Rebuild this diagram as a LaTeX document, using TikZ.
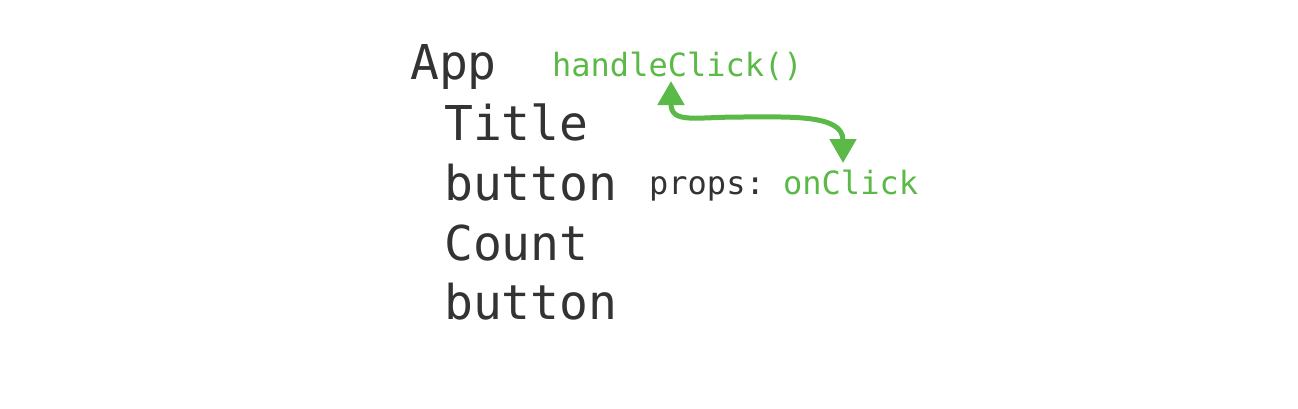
\documentclass[tikz,border=0pt]{standalone}
\usepackage{fontspec}
\setmonofont{DejaVu Sans Mono}
\usetikzlibrary{arrows.meta}
\definecolor{ink}{HTML}{333333}
\definecolor{leaf}{HTML}{5BB947}
\tikzset{
  big/.style={inner sep=0pt, anchor=base west, text=ink, font=\ttfamily\fontsize{48bp}{56bp}\selectfont},
  small/.style={inner sep=0pt, anchor=base west, text=ink, font=\ttfamily\fontsize{32bp}{38bp}\selectfont},
  greenlbl/.style={small, text=leaf},
  flow/.style={draw=leaf, line width=5bp, line cap=round,
    {Triangle[length=24bp,width=26bp,fill=leaf]}-{Triangle[length=24bp,width=26bp,fill=leaf]}}
}
\begin{document}
\begin{tikzpicture}[x=1bp,y=-1bp]
\useasboundingbox (0,0) rectangle (1298,408);
\node[big] (app) at (410,79) {App};
\node[big] (title) at (444,140) {Title};
\node[big] (btn1) at (444,200) {button};
\node[big] (count) at (444,260) {Count};
\node[big] (btn2) at (444,319) {button};
\node[greenlbl] (handle) at (552,76) {handleClick()};
\node[small] (props) at (649,194) {props:};
\node[greenlbl] (onclick) at (783,194) {onClick};
\coordinate (tipA) at (671,81);
\coordinate (tipB) at (843,163);
\draw[flow] (tipA) .. controls (671,124) and (695,117) .. (740,117)
  .. controls (790,117) and (843,114) .. (tipB);
\end{tikzpicture}
\end{document}
